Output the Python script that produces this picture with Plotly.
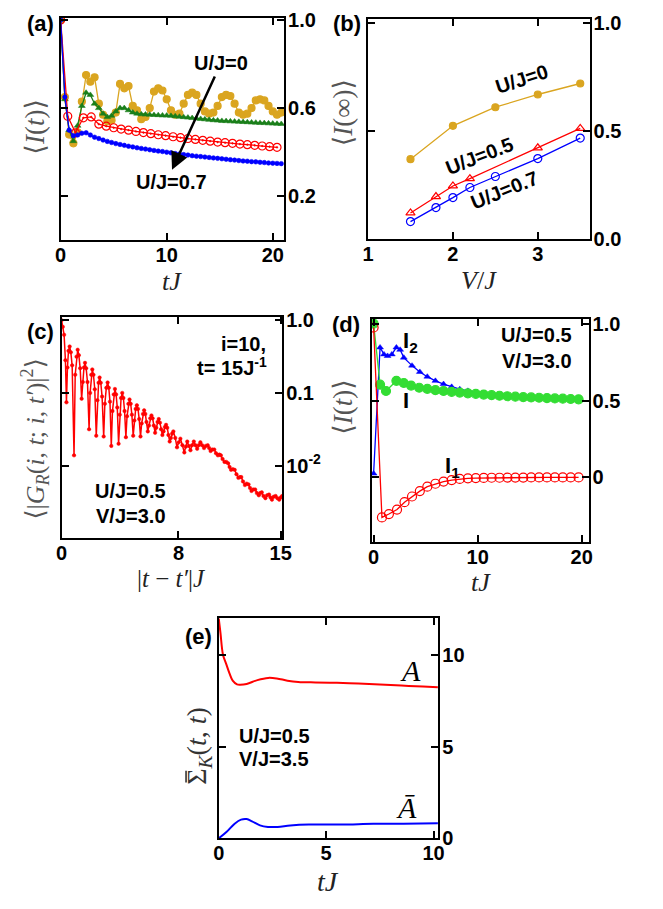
import numpy as np
import plotly.graph_objects as go

W, H = 663, 909

# ---------------- panel (a): <I(t)> vs tJ ----------------
t_a_u0 = [0.0, 0.4, 0.8, 1.2, 1.6, 2.0, 2.4, 2.8, 3.2, 3.6, 4.0, 4.4, 4.8, 5.2, 5.6, 6.0, 6.4, 6.8,
          7.2, 7.6, 8.0, 8.4, 8.8, 9.2, 9.6, 10.0, 10.4, 10.8, 11.2, 11.6, 12.0, 12.4, 12.8, 13.2,
          13.6, 14.0, 14.4, 14.8, 15.2, 15.6, 16.0, 16.4, 16.8, 17.2, 17.6, 18.0, 18.4, 18.8, 19.2,
          19.6, 20.0, 20.4, 20.8]
I_a_u0 = [1.0, 0.65, 0.48, 0.44, 0.49, 0.63, 0.75, 0.72, 0.74, 0.62, 0.57, 0.54, 0.545, 0.58, 0.71,
          0.69, 0.70, 0.61, 0.59, 0.55, 0.56, 0.60, 0.675, 0.69, 0.68, 0.64, 0.59, 0.57, 0.575, 0.62,
          0.66, 0.67, 0.66, 0.62, 0.585, 0.575, 0.58, 0.61, 0.65, 0.66, 0.655, 0.62, 0.58, 0.57,
          0.575, 0.60, 0.635, 0.64, 0.635, 0.61, 0.585, 0.57, 0.58]

t_a_u03 = t_a_u0
I_a_u03 = [1.0, 0.64, 0.50, 0.45, 0.52, 0.61, 0.67, 0.66, 0.62, 0.60, 0.575, 0.56, 0.565, 0.585,
           0.60, 0.60, 0.59, 0.58, 0.575, 0.572, 0.571, 0.570, 0.569, 0.568, 0.567, 0.566, 0.565,
           0.563, 0.561, 0.559, 0.557, 0.555, 0.553, 0.551, 0.549, 0.547, 0.545, 0.544, 0.542,
           0.541, 0.540, 0.539, 0.538, 0.537, 0.536, 0.535, 0.534, 0.533, 0.532, 0.531, 0.530,
           0.529, 0.528]

t_a_u05 = [0.0, 0.67, 1.4, 2.14, 2.88, 3.6, 4.3, 5.0, 5.7, 6.4, 7.1, 7.8, 8.5, 9.2, 9.9, 10.6,
           11.3, 12.0, 12.7, 13.4, 14.1, 14.8, 15.5, 16.2, 16.9, 17.6, 18.3, 19.0, 19.7, 20.4]
I_a_u05 = [1.0, 0.563, 0.488, 0.556, 0.56, 0.527, 0.518, 0.511, 0.505, 0.500, 0.494, 0.489,
           0.484, 0.479, 0.475, 0.470, 0.466, 0.462, 0.458, 0.454, 0.450, 0.446, 0.443, 0.440,
           0.437, 0.434, 0.431, 0.428, 0.425, 0.422]

t_a_u07 = t_a_u0
I_a_u07 = [1.0, 0.65, 0.50, 0.475, 0.478, 0.486, 0.488, 0.478, 0.468, 0.462, 0.455, 0.449,
           0.444, 0.439, 0.435, 0.431, 0.427, 0.424, 0.420, 0.417, 0.414, 0.411, 0.408, 0.405,
           0.403, 0.400, 0.397, 0.394, 0.392, 0.389, 0.387, 0.384, 0.382, 0.380, 0.378, 0.376,
           0.374, 0.372, 0.370, 0.368, 0.366, 0.364, 0.362, 0.360, 0.359, 0.357, 0.356, 0.354,
           0.353, 0.351, 0.350, 0.349, 0.348]

# ---------------- panel (b): <I(inf)> vs V/J ----------------
V_b_u0 = [1.5, 2.0, 2.5, 3.0, 3.5]
I_b_u0 = [0.369, 0.524, 0.61, 0.669, 0.72]
V_b_u05 = [1.5, 1.8, 2.0, 2.2, 3.0, 3.5]
I_b_u05 = [0.12, 0.196, 0.245, 0.279, 0.422, 0.512]
V_b_u07 = [1.5, 1.8, 2.0, 2.2, 2.5, 3.0, 3.5]
I_b_u07 = [0.08, 0.145, 0.191, 0.238, 0.289, 0.372, 0.467]

# ---------------- panel (c): <|G_R|^2> vs |t-t'|J (log10 of value) ----------------
tau_c = [0.0, 0.08, 0.17, 0.26, 0.33, 0.4, 0.47, 0.55,
         0.63, 0.72, 0.85, 0.93, 1.02, 1.1,
         1.18, 1.27, 1.37, 1.45, 1.53, 1.6,
         1.68, 1.77, 1.88, 1.95, 2.03, 2.1,
         2.18, 2.27, 2.37, 2.45, 2.53, 2.6,
         2.68, 2.77, 2.88, 2.96, 3.06, 3.15,
         3.23, 3.31, 3.4, 3.48, 3.57, 3.65,
         3.73, 3.81, 3.9, 3.98, 4.07, 4.15,
         4.23, 4.31, 4.4, 4.48, 4.57, 4.65,
         4.73, 4.81, 4.9, 4.98, 5.07, 5.15,
         5.23, 5.31, 5.4, 5.48, 5.57, 5.65,
         5.73, 5.81, 5.9, 5.98, 6.07, 6.15,
         6.23, 6.31, 6.4, 6.48, 6.57, 6.65,
         6.73, 6.81, 6.9, 6.98, 7.07, 7.15,
         7.23, 7.31, 7.4, 7.48, 7.57, 7.65,
         7.78, 7.9, 8.02, 8.13, 8.27, 8.4, 8.5, 8.6, 8.71, 8.82, 8.93, 9.05, 9.16, 9.28,
         9.39, 9.5, 9.62, 9.75, 9.87, 10.0, 10.1, 10.2, 10.32, 10.45, 10.57, 10.7, 10.8,
         10.9, 11.02, 11.15, 11.27, 11.4, 11.5, 11.6, 11.72, 11.85, 11.97, 12.1, 12.2, 12.3,
         12.42, 12.55, 12.67, 12.8, 12.9, 13.0, 13.12, 13.25, 13.37, 13.5, 13.6, 13.7, 13.82,
         13.95, 14.07, 14.2, 14.3, 14.4, 14.52, 14.65, 14.77, 14.9, 15.0, 15.1]
log10_G_c = [0.0, -0.09, -0.2, -0.55, -1.13, -0.65, -0.42, -0.36,
             -0.44, -0.62, -1.86, -0.75, -0.5, -0.405,
             -0.48, -0.66, -1.08, -0.85, -0.65, -0.586,
             -0.66, -0.85, -1.5, -1.0, -0.75, -0.676,
             -0.75, -0.95, -1.59, -1.1, -0.86, -0.788,
             -0.86, -1.05, -1.6, -1.15, -0.93, -0.856,
             -0.93, -1.12, -1.73, -1.25, -1.02, -0.946,
             -1.02, -1.2, -1.70, -1.3, -1.07, -1.0,
             -1.07, -1.25, -1.61, -1.32, -1.15, -1.09,
             -1.15, -1.3, -1.59, -1.38, -1.22, -1.17,
             -1.22, -1.36, -1.6, -1.42, -1.29, -1.24,
             -1.29, -1.4, -1.53, -1.45, -1.35, -1.31,
             -1.35, -1.45, -1.55, -1.48, -1.4, -1.36,
             -1.41, -1.5, -1.58, -1.53, -1.47, -1.44,
             -1.48, -1.58, -1.67, -1.62, -1.56, -1.53,
             -1.62, -1.75, -1.68, -1.63, -1.72, -1.82, -1.74, -1.67, -1.73, -1.79, -1.72, -1.67,
             -1.72, -1.77, -1.72, -1.68, -1.72, -1.76, -1.73, -1.72, -1.76, -1.80, -1.78, -1.78,
             -1.83, -1.86, -1.85, -1.86, -1.91, -1.95, -1.95, -1.97, -2.02, -2.06, -2.05, -2.06,
             -2.12, -2.17, -2.16, -2.16, -2.22, -2.27, -2.25, -2.26, -2.31, -2.35, -2.33, -2.33,
             -2.38, -2.41, -2.38, -2.37, -2.42, -2.45, -2.41, -2.40, -2.44, -2.47, -2.43, -2.42,
             -2.45, -2.47, -2.44, -2.42]

# ---------------- panel (d): <I(t)>, I1, I2 at U/J=0.5, V/J=3.0 ----------------
t_d_I2 = [0.0, 0.62, 1.0, 1.34, 1.75, 2.19, 2.55, 2.9, 3.69, 4.44, 5.16, 5.94, 6.72, 7.5, 8.28,
          9.06, 9.82, 10.58, 11.34, 12.1, 12.86, 13.62, 14.38, 15.14, 15.9, 16.66, 17.42, 18.18,
          18.94, 19.7]
I_d_I2 = [0.025, 0.845, 0.80, 0.79, 0.80, 0.845, 0.83, 0.779, 0.727, 0.686, 0.655, 0.628, 0.607,
          0.589, 0.574, 0.563, 0.555, 0.548, 0.542, 0.536, 0.531, 0.527, 0.523, 0.520, 0.517,
          0.514, 0.512, 0.510, 0.508, 0.506]
t_d_I = [0.0, 0.62, 1.19, 2.19, 2.9, 3.6, 4.38, 5.16, 5.94, 6.72, 7.5, 8.28, 9.06, 9.82, 10.58,
         11.34, 12.1, 12.86, 13.62, 14.38, 15.14, 15.9, 16.66, 17.42, 18.18, 18.94, 19.7]
I_d_I = [1.0, 0.603, 0.562, 0.628, 0.614, 0.597, 0.583, 0.576, 0.568, 0.562, 0.556, 0.552, 0.547,
         0.543, 0.539, 0.535, 0.531, 0.528, 0.525, 0.522, 0.520, 0.518, 0.516, 0.514, 0.512,
         0.510, 0.508]
t_d_I1 = [0.0, 0.8, 1.47, 2.25, 2.97, 3.69, 4.44, 5.16, 5.94, 6.72, 7.5, 8.28, 9.06, 9.82, 10.58,
          11.34, 12.1, 12.86, 13.62, 14.38, 15.14, 15.9, 16.66, 17.42, 18.18, 18.94, 19.7]
I_d_I1 = [0.975, -0.26, -0.238, -0.209, -0.161, -0.124, -0.089, -0.060, -0.041, -0.027, -0.017,
          -0.010, -0.006, -0.004, -0.003, -0.002, -0.002, -0.001, -0.001, -0.001, 0.0, 0.0, 0.0,
          0.0, 0.0, 0.0, 0.0]

# ---------------- panel (e): Sigma_K(t,t) ----------------
t_e_A = [0.0, 0.08, 0.2, 0.35, 0.5, 0.65, 0.85, 1.0, 1.3, 1.8, 2.3, 2.7, 3.2, 3.7, 4.5, 5.5,
         6.5, 7.5, 8.5, 9.5, 10.2]
S_e_A = [12.0, 11.2, 10.0, 9.5, 9.0, 8.6, 8.4, 8.38, 8.42, 8.63, 8.75, 8.72, 8.6, 8.53, 8.5,
         8.48, 8.44, 8.39, 8.33, 8.28, 8.24]
t_e_Abar = [0.0, 0.37, 0.74, 1.04, 1.3, 1.55, 1.92, 2.29, 2.74, 3.33, 4.2, 5.7, 7.2, 8.6, 10.2]
S_e_Abar = [0.0, 0.36, 0.8, 1.02, 1.05, 0.93, 0.71, 0.625, 0.625, 0.7, 0.75, 0.75, 0.79, 0.8, 0.82]

GOLD = "#DAA520"
DGREEN = "#1a7f1a"
LGREEN = "#33dd33"
RED = "#ff0000"
BLUE = "#0000ff"

fig = go.Figure()

def line(x, y, color, xa, ya, symbol=None, size=6, width=1.3, mline=1.2, shape="linear"):
    mode = "lines+markers" if symbol else "lines"
    tr = go.Scatter(x=x, y=y, mode=mode, xaxis=xa, yaxis=ya, showlegend=False,
                    line=dict(color=color, width=width, shape=shape))
    if symbol:
        tr.marker = dict(symbol=symbol, size=size, color=color, line=dict(color=color, width=mline))
    fig.add_trace(tr)

# (a)
line(t_a_u0, I_a_u0, GOLD, "x", "y", "circle", 7)
line(t_a_u03, I_a_u03, DGREEN, "x", "y", "triangle-up", 6, mline=0.5)
line(t_a_u05, I_a_u05, RED, "x", "y", "circle-open-dot", 8)
line(t_a_u07, I_a_u07, BLUE, "x", "y", "circle", 4.5, mline=0.6)
# (b)
line(V_b_u0, I_b_u0, GOLD, "x2", "y2", "circle", 7)
line(V_b_u05, I_b_u05, RED, "x2", "y2", "triangle-up-open", 8)
line(V_b_u07, I_b_u07, BLUE, "x2", "y2", "circle-open", 8)
# (c)
G_c = np.power(10.0, np.array(log10_G_c))
line(tau_c, G_c, RED, "x3", "y3", "circle", 3.5, width=1.5, mline=0.5)
# (d)
line(t_d_I2, I_d_I2, BLUE, "x4", "y4", "triangle-up", 6, mline=0.5)
line(t_d_I, I_d_I, LGREEN, "x4", "y4", "circle", 9)
line(t_d_I1, I_d_I1, RED, "x4", "y4", "circle-open", 9)
# (e)
line(t_e_A, S_e_A, RED, "x5", "y5", None, width=2, shape="spline")
line(t_e_Abar, S_e_Abar, BLUE, "x5", "y5", None, width=2, shape="spline")

def dom(x0, x1, y0, y1):
    return [x0 / W, x1 / W], [1 - y1 / H, 1 - y0 / H]

TF = dict(family="Liberation Sans, Arial, sans-serif", size=20, color="black", weight="bold")
base = dict(showline=True, linecolor="black", linewidth=2, mirror="ticks", ticks="inside",
            ticklen=7, tickwidth=1.5, tickcolor="black", showgrid=False, zeroline=False,
            tickfont=TF)

panels = {
    "": dom(56, 285, 9, 236.5),
    "2": dom(371, 598, 10, 235),
    "3": dom(57, 283, 315, 541),
    "4": dom(375, 597, 317, 545),
    "5": dom(218, 443, 623, 848),
}
xcfg = {
    "": dict(range=[0, 21.07], tickvals=[0, 10, 20]),
    "2": dict(range=[1, 3.61], tickvals=[1, 2, 3]),
    "3": dict(range=[0, 15.1], tickvals=[0, 8, 15]),
    "4": dict(range=[-0.16, 20.66], tickvals=[0, 10, 20]),
    "5": dict(range=[0, 10.22], tickvals=[0, 5, 10]),
}
ycfg = {
    "": dict(range=[0, 1.01], tickvals=[0.2, 0.6, 1.0], ticktext=["0.2", "0.6", "1.0"]),
    "2": dict(range=[0, 1.02], tickvals=[0, 0.5, 1.0], ticktext=["0.0", "0.5", "1.0"]),
    "3": dict(type="log", range=[-3.0, 0.045], tickvals=[1, 0.1, 0.01],
              ticktext=["1.0", "0.1", "10<sup>-2</sup>"]),
    "4": dict(range=[-0.42, 1.03], tickvals=[0, 0.5, 1.0], ticktext=["0", "0.5", "1.0"]),
    "5": dict(range=[0, 12.0], tickvals=[0, 5, 10]),
}
lay = {}
for k, (dx, dy) in panels.items():
    lay["xaxis" + k] = dict(base, domain=dx, anchor="y" + k, ticklabelstandoff=-4, **xcfg[k])
    lay["yaxis" + k] = dict(base, domain=dy, anchor="x" + k, side="right",
                            ticklabelstandoff=-2, **ycfg[k])

def P(x, y):
    return x / W, 1 - y / H

ann = []

def txt(x, y, s, size=20, family="Liberation Sans, Arial, sans-serif", color="black",
        angle=0, xanchor="center", yanchor="middle"):
    px, py = P(x, y)
    ann.append(dict(x=px, y=py, xref="paper", yref="paper", text=s, showarrow=False,
                    textangle=angle, xanchor=xanchor, yanchor=yanchor,
                    font=dict(family=family, size=size, color=color)))

SERIF = "Liberation Serif, DejaVu Serif, serif"
# panel labels
txt(35, 15, "<b>(a)</b>", 22)
txt(349, 15, "<b>(b)</b>", 22)
txt(35, 330, "<b>(c)</b>", 22)
txt(348, 323, "<b>(d)</b>", 22)
txt(197, 642, "<b>(e)</b>", 22)

# axis titles
txt(30, 120, "⟨<i>I</i>(<i>t</i>)⟩", 27, SERIF, "#555", -90)
txt(345, 106, "⟨<i>I</i>(∞)⟩", 27, SERIF, "#555", -90)
txt(30, 440, "⟨|<i>G</i><sub><i>R</i></sub>(<i>i</i>, <i>t</i>; <i>i</i>, <i>t′</i>)|<sup>2</sup>⟩",
    26, SERIF, "#555", -90)
txt(345, 407, "⟨<i>I</i>(<i>t</i>)⟩", 27, SERIF, "#555", -90)
txt(197, 795, "Σ<sub><i>K</i></sub>(<i>t</i>, <i>t</i>)", 28, SERIF, "#333", -90,
    yanchor="bottom")

txt(170, 279, "<i>tJ</i>", 26, SERIF, "#222")
txt(485, 278, "<i>V</i>/<i>J</i>", 26, SERIF, "#222")
txt(170, 582, "|<i>t</i> − <i>t′</i>|<i>J</i>", 25, SERIF, "#222")
txt(487, 586, "<i>tJ</i>", 26, SERIF, "#222")
txt(330, 892, "<i>tJ</i>", 28, SERIF, "#222")

# (a) labels
txt(220, 55, "<b>U/J=0</b>")
txt(170, 177, "<b>U/J=0.7</b>")
# (b) labels
txt(529, 72, "<b>U/J=0</b>", angle=-18)
txt(485, 150, "<b>U/J=0.5</b>", angle=-21)
txt(511, 185, "<b>U/J=0.7</b>", angle=-22)
# (c)
txt(268, 343, "<b>i=10,</b>", 20, xanchor="right")
txt(270, 366, "<b>t= 15J<sup>-1</sup></b>", 20, xanchor="right")
txt(128, 493, "<b>U/J=0.5</b>")
txt(128, 518, "<b>V/J=3.0</b>")
# (d)
txt(544, 333, "<b>U/J=0.5</b>")
txt(544, 360, "<b>V/J=3.0</b>")
txt(414, 341, "<b>I<sub>2</sub></b>", 22)
txt(410, 400, "<b>I</b>", 22)
txt(458, 468, "<b>I<sub>1</sub></b>", 22)
# (e)
txt(275, 743, "<b>U/J=0.5</b>")
txt(275, 767, "<b>V/J=3.5</b>")
txt(415, 676, "<i>A</i>", 30, SERIF)
txt(410, 816, "<i>Ā</i>", 30, SERIF)

# arrow in (a)
ann.append(dict(x=10.5, y=0.32, xref="x", yref="y", ax=14.6, ay=0.75, axref="x", ayref="y",
                text="", showarrow=True, arrowhead=2, arrowsize=1.4, arrowwidth=2.5,
                arrowcolor="black"))

# bar over the Sigma of panel (e) title (rotated text, so the bar is a short vertical stroke)
bx0, by0 = P(184.5, 791)
bx1, by1 = P(184.5, 779)
shapes = [dict(type="line", xref="paper", yref="paper", x0=bx0, y0=by0, x1=bx1, y1=by1,
               line=dict(color="#333", width=1.6))]

fig.update_layout(width=W, height=H, margin=dict(l=0, r=0, t=0, b=0),
                  paper_bgcolor="white", plot_bgcolor="white", annotations=ann,
                  shapes=shapes, showlegend=False, **lay)

fig.write_html("out.html", config={"displayModeBar": False},
               post_script="document.body.style.margin='0px';"
                           "document.body.style.overflow='hidden';")
